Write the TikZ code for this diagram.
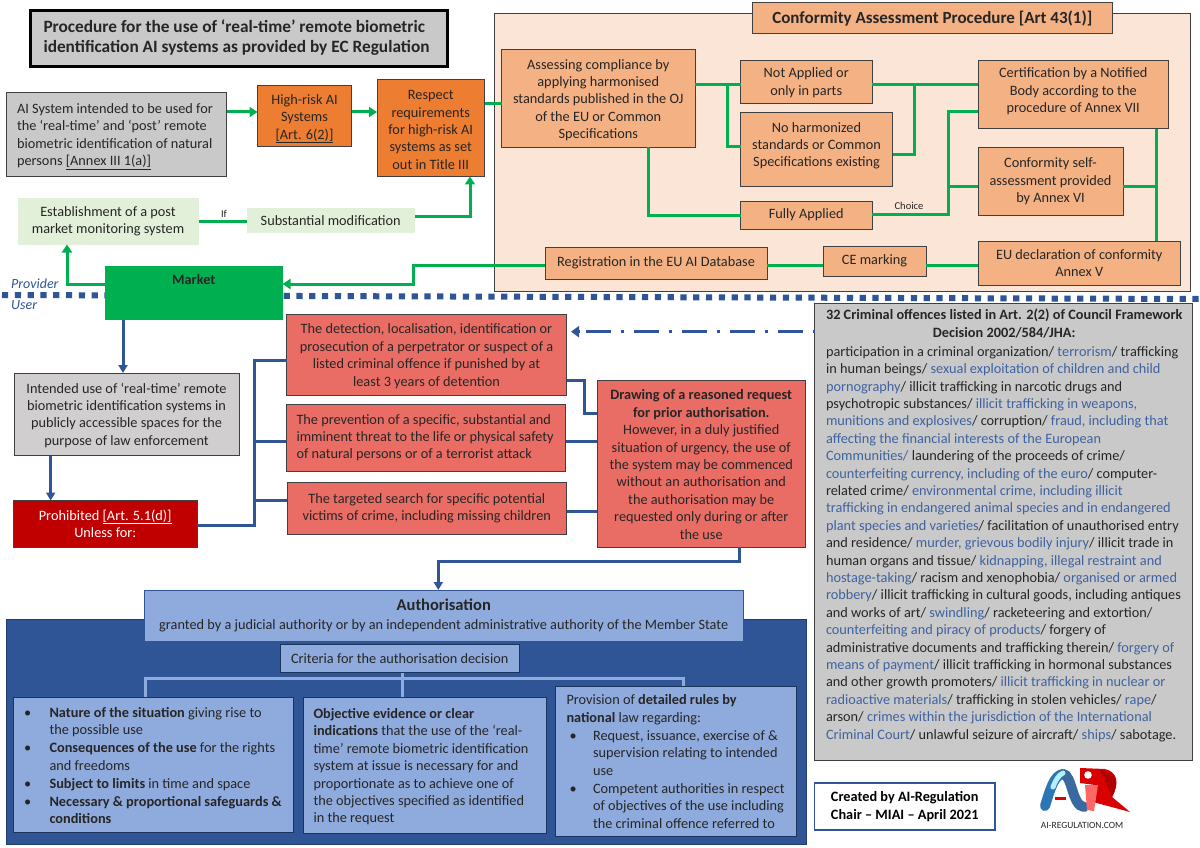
\documentclass[tikz,border=0pt]{standalone}
\usepackage{fontspec}
\setmainfont{Carlito}
\usetikzlibrary{arrows.meta}
\definecolor{ink}{HTML}{262626}
\definecolor{gr}{HTML}{00B050}
\definecolor{blu}{HTML}{2F5597}
\definecolor{lblu}{HTML}{8FAADC}
\definecolor{pale}{HTML}{FBE5D6}
\definecolor{peach}{HTML}{F4B183}
\definecolor{orng}{HTML}{ED7D31}
\definecolor{lgrn}{HTML}{E2F0D9}
\definecolor{gry}{HTML}{C9C9C9}
\definecolor{lgry}{HTML}{D0CECE}
\definecolor{salm}{HTML}{E96D65}
\definecolor{crim}{HTML}{C00000}
\definecolor{edge}{HTML}{404040}
\definecolor{cb}{HTML}{3F62A0}
\newcommand\bx[7]{\pgfmathsetmacro\wdd{#4-#2}\pgfmathsetmacro\htt{#5-#3}%
 \node[boxbase,#6,minimum width=\wdd pt,minimum height=\htt pt] (#1) at ({(#2+#4)/2},{(#3+#5)/2}) {#7};}
\newcommand\lbx[8]{\pgfmathsetmacro\wdd{#4-#2}\pgfmathsetmacro\htt{#5-#3}\pgfmathsetmacro\tww{#4-#2-2*#8}%
 \node[boxbase,#6,minimum width=\wdd pt,minimum height=\htt pt] (#1) at ({(#2+#4)/2},{(#3+#5)/2}) {\makebox[\tww pt][l]{\begin{tabular}{@{}l@{}}#7\end{tabular}}};}
\newcommand\blt{\makebox[25.5pt][l]{\textbullet}}
\newcommand\bltb{\hspace*{3pt}\makebox[23.5pt][l]{\textbullet}}
\newcommand\bb[1]{\textcolor{cb}{#1}}
\newcommand\nb{\hspace*{25.5pt}}
\newcommand\nbb{\hspace*{26.5pt}}
\newcommand\up[1]{\rule{0pt}{#1pt}}
\tikzset{
 boxbase/.style={inner sep=0pt,outer sep=0pt,align=center,text=ink,font=\fontsize{14.3}{17.4}\selectfont},
 panelbox/.style={fill=pale,draw=edge,line width=1pt},
 peachbox/.style={fill=peach,draw=edge,line width=1pt},
 orangebox/.style={fill=orng,draw=edge,line width=1pt},
 greybox/.style={fill=gry,draw=edge,line width=1pt},
 lgreybox/.style={fill=lgry,draw=edge,line width=1pt},
 palegreen/.style={fill=lgrn},
 redbox/.style={fill=salm,draw=edge,line width=1pt},
 bluebox/.style={fill=lblu,draw=edge,line width=1pt},
 gline/.style={draw=gr,line width=3pt},
 garrow/.style={gline,-{Triangle[length=8pt,width=10pt]}},
 bline/.style={draw=blu,line width=3pt},
 barrow/.style={bline,-{Triangle[length=8pt,width=9pt]}},
 lbline/.style={draw=lblu,line width=3pt},
 small/.style={inner sep=0pt,font=\fontsize{10.5}{12}\selectfont,text=ink},
 ital/.style={inner sep=0pt,font=\fontsize{14}{17}\selectfont\itshape,text=blu,anchor=west},
}
\begin{document}
\begin{tikzpicture}[x=1pt,y=-1pt]
\useasboundingbox (0,0) rectangle (1200,848);
\fill[white] (0,0) rectangle (1200,848);
% panels
\bx{panel}{494.5}{14}{1190.5}{291}{panelbox}{}
\coordinate (dl) at (2,295);
\coordinate (dr) at (1200,299);
\draw[blu,line width=6pt,dash pattern=on 6.2pt off 6.6pt] (dl) -- (dr);
\bx{dark}{6.3}{619.3}{806}{844}{fill=blu,draw=blu!70!black,line width=1pt}{}
% title
\lbx{title}{30.5}{10.5}{447.5}{66.5}{fill=gry,draw=black,line width=2.6pt,font=\fontsize{17.3}{20.6}\selectfont\bfseries,text=ink}{Procedure for the use of ‘real-time’ remote biometric\\identification AI systems as provided by EC Regulation}{13}
% provider row
\lbx{aisys}{6.5}{93}{226.5}{177}{greybox}{\noalign{\vskip 2pt}AI System intended to be used for\\the ‘real-time’ and ‘post’ remote\\biometric identification of natural\\persons \underline{[Annex III 1(a)]}}{10.5}
\bx{highrisk}{257.5}{85.5}{351.5}{147}{orangebox}{\up{15}High-risk AI\\Systems\\\underline{[Art. 6(2)]}}
\bx{respect}{377}{79.5}{484.5}{176.5}{orangebox}{\up{13}Respect\\requirements\\for high-risk AI\\systems as set\\out in Title III}
\bx{postm}{17.5}{197.5}{198.5}{244.5}{palegreen}{Establishment of a post\\market monitoring system}
\bx{subst}{247}{208}{414.5}{233}{palegreen}{Substantial modification}
\node[small] (iflab) at (224,214) {If};
\bx{market}{105}{265.5}{282.5}{319.5}{fill=gr,font=\fontsize{14.3}{17.4}\selectfont\bfseries}{Market\\[9pt]\mbox{}}
\node[ital] (prov) at (11,284) {Provider};
\node[ital] (usr) at (11,305) {User};
% conformity
\bx{head}{752.7}{3}{1112}{34}{peachbox,font=\fontsize{17}{20}\selectfont\bfseries}{Conformity Assessment Procedure [Art 43(1)]}
\bx{assess}{501.5}{49.5}{695}{147.5}{peachbox}{\up{13}Assessing compliance by\\applying harmonised\\standards published in the OJ\\of the EU or Common\\Specifications}
\bx{notapp}{740.5}{61}{872}{104}{peachbox}{Not Applied or\\only in parts}
\bx{noharm}{740.5}{113}{892.5}{187}{peachbox}{No harmonized\\standards or Common\\Specifications existing\\[-6.5pt]\mbox{}}
\bx{fully}{740.5}{201}{872}{229}{peachbox}{\raisebox{-5pt}{Fully Applied}}
\bx{cert}{978}{61}{1168.5}{129}{peachbox}{Certification by a Notified\\Body according to the\\procedure of Annex VII\\[-8pt]\mbox{}}
\bx{self}{978}{148}{1123}{215}{peachbox}{Conformity self-\\assessment provided\\by Annex VI}
\bx{decl}{978}{241}{1180.5}{285}{peachbox}{EU declaration of conformity\\Annex V}
\bx{reg}{545}{247}{767}{279}{peachbox}{Registration in the EU AI Database}
\bx{ce}{823}{246.5}{926}{276}{peachbox}{\raisebox{-3pt}{CE marking}}
\node[small] (choice) at (909,206) {Choice};
% green connectors
\draw[garrow] (aisys.east |- 0,112) -- (highrisk.west |- 0,112);
\draw[garrow] (highrisk.east |- 0,112) -- (respect.west |- 0,112);
\draw[gline] (respect.east |- 0,103.5) -- (assess.west |- 0,103.5);
\draw[gline] (postm.east |- 0,221.5) -- (subst.west |- 0,221.5);
\draw[garrow] (subst.east |- 0,216) -| (470,0 |- respect.south);
\draw[garrow] (market.west |- 0,284.5) -| (67,0 |- postm.south);
\draw[gline] (assess.east |- 0,85) -- (notapp.west |- 0,85);
\draw[gline] (727.8,85) |- (noharm.west |- 0,147);
\draw[gline] (648.5,0 |- assess.south) |- (fully.west);
\draw[gline] (notapp.east |- 0,85) -- (cert.west |- 0,85);
\draw[gline] (noharm.east |- 0,155) -| (914.8,85);
\draw[gline] (fully.east |- 0,214.5) -| (948,112) -- (cert.west |- 0,112);
\draw[gline] (948,187) -- (self.west |- 0,187);
\draw[gline] (1156.7,0 |- cert.south) -- (1156.7,0 |- decl.north);
\draw[gline] (self.east |- 0,187) -- (1156.7,187);
\draw[gline] (decl.west |- 0,265.5) -- (ce.east |- 0,265.5);
\draw[gline] (ce.west |- 0,265.5) -- (reg.east |- 0,265.5);
\draw[garrow] (reg.west |- 0,265) -- (413,265) -- (413,284) -- (market.east |- 0,284);
% criminal list
\lbx{crimes}{814.5}{303}{1192}{760}{greybox}{\multicolumn{1}{@{}c@{}}{\bfseries 32 Criminal offences listed in Art. 2(2) of Council Framework}\\
\multicolumn{1}{@{}c@{}}{\bfseries Decision 2002/584/JHA:}\\[1.5pt]
participation in a criminal organization/ \bb{terrorism}/ trafficking\\
in human beings/ \bb{sexual exploitation of children and child}\\
\bb{pornography}/ illicit trafficking in narcotic drugs and\\
psychotropic substances/ \bb{illicit trafficking in weapons,}\\
\bb{munitions and explosives}/ corruption/ \bb{fraud, including that}\\
\bb{affecting the financial interests of the European}\\
\bb{Communities/} laundering of the proceeds of crime/\\
\bb{counterfeiting currency, including of the euro}/ computer-\\
related crime/ \bb{environmental crime, including illicit}\\
\bb{trafficking in endangered animal species and in endangered}\\
\bb{plant species and varieties}/ facilitation of unauthorised entry\\
and residence/ \bb{murder, grievous bodily injury}/ illicit trade in\\
human organs and tissue/ \bb{kidnapping, illegal restraint and}\\
\bb{hostage-taking}/ racism and xenophobia/ \bb{organised or armed}\\
\bb{robbery}/ illicit trafficking in cultural goods, including antiques\\
and works of art/ \bb{swindling}/ racketeering and extortion/\\
\bb{counterfeiting and piracy of products}/ forgery of\\
administrative documents and trafficking therein/ \bb{forgery of}\\
\bb{means of payment}/ illicit trafficking in hormonal substances\\
and other growth promoters/ \bb{illicit trafficking in nuclear or}\\
\bb{radioactive materials}/ trafficking in stolen vehicles/ \bb{rape}/\\
arson/ \bb{crimes within the jurisdiction of the International}\\
\bb{Criminal Court}/ unlawful seizure of aircraft/ \bb{ships}/ sabotage.\\[11pt]}{11.5}
% user part
\bx{intended}{14}{373}{239}{455.5}{lgreybox}{\up{12}Intended use of ‘real-time’ remote\\biometric identification systems in\\publicly accessible spaces for the\\purpose of law enforcement}
\bx{prohib}{13.5}{500.5}{197}{547}{fill=crim,draw=edge,line width=1pt,text=white}{Prohibited \underline{[Art. 5.1(d)]}\\Unless for:}
\bx{detect}{286.5}{314}{566.5}{395.5}{redbox}{\up{13}The detection, localisation, identification or\\prosecution of a perpetrator or suspect of a\\listed criminal offence if punished by at\\least 3 years of detention}
\lbx{prevent}{286}{404.5}{565.5}{471.5}{redbox}{The prevention of a specific, substantial and\\imminent threat to the life or physical safety\\of natural persons or of a terrorist attack}{10.5}
\bx{target}{287}{482.5}{566.5}{534.5}{redbox}{The targeted search for specific potential\\victims of crime, including missing children}
\bx{draw}{597}{380}{805.5}{547}{redbox}{\up{12}\textbf{Drawing of a reasoned request}\\\textbf{for prior authorisation.}\\However, in a duly justified\\situation of urgency, the use of\\the system may be commenced\\without an authorisation and\\the authorisation may be\\requested only during or after\\the use}
\bx{auth}{144}{590}{743.5}{641}{bluebox,draw=blu}{{\fontsize{16.5}{19}\selectfont\bfseries Authorisation}\\[1pt]granted by a judicial authority or by an independent administrative authority of the Member State}
\bx{crit}{280}{644.5}{519.5}{672.5}{bluebox,draw=blu!60!black}{Criteria for the authorisation decision}
% light blue tree
\coordinate (tj) at (402.7,678.7);
\draw[lbline] (crit.south -| tj) -- (tj);
\draw[lbline] (145.5,697.5) |- (683.5,678.7) -- (683.5,686);
\draw[lbline] (tj) -- (402.7,697.5);
\lbx{crit1}{13}{697.5}{293}{832.5}{bluebox,draw=blu!60!black,font=\fontsize{14.3}{17.8}\selectfont}{\noalign{\vskip 4pt}\blt\textbf{Nature of the situation} giving rise to\\\nb the possible use\\\blt\textbf{Consequences of the use} for the rights\\\nb and freedoms\\\blt\textbf{Subject to limits} in time and space\\\blt\textbf{Necessary \& proportional safeguards \&}\\\nb\textbf{conditions}}{11}
\lbx{crit2}{303}{697.5}{546}{833}{bluebox,draw=blu!60!black}{\noalign{\vskip 4pt}\textbf{Objective evidence or clear}\\\textbf{indications} that the use of the ‘real-\\time’ remote biometric identification\\system at issue is necessary for and\\proportionate as to achieve one of\\the objectives specified as identified\\in the request}{10.5}
\lbx{crit3}{555.5}{686}{796}{836}{bluebox,draw=blu!60!black,font=\fontsize{14.3}{17.65}\selectfont}{\noalign{\vskip 4pt}Provision of \textbf{detailed rules by}\\\textbf{national} law regarding:\\\bltb Request, issuance, exercise of \&\\\nbb supervision relating to intended\\\nbb use\\\bltb Competent authorities in respect\\\nbb of objectives of the use including\\\nbb the criminal offence referred to}{11}
% blue connectors
\draw[barrow] (123,0 |- market.south) -- (123,0 |- intended.north);
\draw[barrow] (50.7,0 |- intended.south) -- (50.7,0 |- prohib.north);
\draw[bline] (prohib.east |- 0,525.5) -| (254.7,360) -- (detect.west |- 0,360);
\draw[bline] (254.7,441) -- (prevent.west |- 0,441);
\draw[bline] (254.7,500.5) -- (target.west |- 0,500.5);
\draw[bline] (detect.east |- 0,380) -| (584,413.5) -- (draw.west |- 0,413.5);
\draw[bline] (prevent.east |- 0,441) -- (draw.west |- 0,441);
\draw[bline] (target.east |- 0,511.5) -- (draw.west |- 0,511.5);
\draw[barrow] (739.5,0 |- draw.south) -- (739.5,561) -- (438.3,561) -- (438.3,0 |- auth.north);
\coordinate (cs) at (815,331.7);
\coordinate (cd) at (586,331.7);
\coordinate (ct) at (580,331.7);
\coordinate (ca) at (571,331.7);
\draw[bline,line width=3.5pt,dash pattern=on 25pt off 9.5pt on 3pt off 10.5pt] (cd) -- (crimes.west |- cs);
\draw[bline,-{Triangle[length=8pt,width=11pt]}] (ct) -- (ca);
% footer
\bx{created}{814.5}{783}{995}{830}{fill=white,draw=blu,line width=1.3pt,font=\fontsize{14.3}{17.5}\selectfont\bfseries,text=black}{Created by AI-Regulation\\Chair – MIAI – April 2021}
% logo
\draw[line width=10pt,color=cyan!60!blue!85!black,line cap=round] (1045,806) .. controls (1050,790) and (1054,775) .. (1063,774);
\draw[line width=10pt,color=cyan!50!blue!75!black,line cap=round] (1063,774) .. controls (1072,774) and (1072,806) .. (1084,807);
\draw[line width=5pt,color=blue!20!cyan!30!white,line cap=round] (1053,787) .. controls (1056,779) and (1059,775) .. (1063,773);
\fill[red!85!black] (1080,768) -- (1105,769) .. controls (1117,772) and (1120,782) .. (1112,797) -- (1130,812) -- (1093,802) -- (1095,785) -- (1080,783) -- cycle;
\fill[red!70!black] (1100,770) .. controls (1117,772) and (1120,782) .. (1112,797) -- cycle;
\fill[red!60!white] (1085,785) -- (1098,785) -- (1094,811) -- (1087,810) -- cycle;
\fill[white] (1088,775) circle (3.8);
\fill[red!85!black] (1055,797) rectangle (1066,800);
\node[inner sep=0pt,font=\fontsize{9.5}{11}\selectfont,text=ink] (logotxt) at (1082,825) {AI-REGULATION.COM};
\end{tikzpicture}
\end{document}
